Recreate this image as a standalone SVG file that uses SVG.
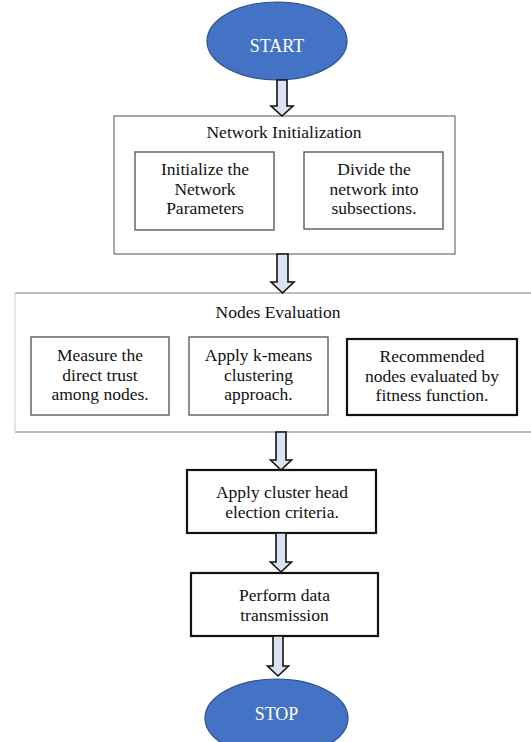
<svg xmlns="http://www.w3.org/2000/svg" width="531" height="742" viewBox="0 0 531 742">
<style>
  text { font-family: 'Liberation Serif', 'Times New Roman', 'DejaVu Serif', serif; }
  .t { font-size: 17.5px; fill: #111; text-anchor: middle; }
  .w { font-size: 18px; fill: #ffffff; text-anchor: middle; }
  .term { fill: #4472C4; stroke: #2F528F; stroke-width: 1.2; }
  .outer { fill: #ffffff; stroke: #6e6e6e; stroke-width: 1.2; }
  .inner { fill: #ffffff; stroke: #505050; stroke-width: 1.3; }
  .bold { fill: #ffffff; stroke: #111; stroke-width: 2.2; }
  .arrow { fill: #DAE3F3; stroke: #111; stroke-width: 1.6; stroke-linejoin: miter; }
</style>
<rect width="531" height="742" fill="#ffffff"/>

<g id="start">
  <ellipse class="term" cx="277" cy="41" rx="70" ry="39"/>
  <text class="w" x="277" y="52" font-family="Liberation Serif, serif">START</text>
</g>

<g id="network-init">
  <rect class="outer" x="114" y="116" width="341" height="138"/>
  <text class="t" x="284" y="138" font-family="Liberation Serif, serif">Network Initialization</text>
  <g id="init-params">
    <rect class="inner" x="135" y="152" width="139" height="78"/>
    <text class="t" x="205" y="175" font-family="Liberation Serif, serif">Initialize the</text>
    <text class="t" x="205" y="195" font-family="Liberation Serif, serif">Network</text>
    <text class="t" x="205" y="214" font-family="Liberation Serif, serif">Parameters</text>
  </g>
  <g id="divide-network">
    <rect class="inner" x="304" y="152" width="139" height="77"/>
    <text class="t" x="374" y="175" font-family="Liberation Serif, serif">Divide the</text>
    <text class="t" x="374" y="195" font-family="Liberation Serif, serif">network into</text>
    <text class="t" x="374" y="214" font-family="Liberation Serif, serif">subsections.</text>
  </g>
</g>

<g id="nodes-eval">
  <line x1="15" y1="293" x2="531" y2="293" stroke="#7a7a7a" stroke-width="1.2"/>
  <line x1="15" y1="432" x2="531" y2="432" stroke="#7a7a7a" stroke-width="1.2"/>
  <line x1="15" y1="293" x2="15" y2="432" stroke="#d8d8d8" stroke-width="1.2"/>
  <text class="t" x="278" y="318" font-family="Liberation Serif, serif">Nodes Evaluation</text>
  <g id="measure-trust">
    <rect class="inner" x="31" y="337" width="138" height="78"/>
    <text class="t" x="100" y="361" font-family="Liberation Serif, serif">Measure the</text>
    <text class="t" x="100" y="381" font-family="Liberation Serif, serif">direct trust</text>
    <text class="t" x="100" y="400" font-family="Liberation Serif, serif">among nodes.</text>
  </g>
  <g id="kmeans">
    <rect class="inner" x="189" y="337" width="139" height="78"/>
    <text class="t" x="258.5" y="361" font-family="Liberation Serif, serif">Apply k-means</text>
    <text class="t" x="258.5" y="381" font-family="Liberation Serif, serif">clustering</text>
    <text class="t" x="258.5" y="400" font-family="Liberation Serif, serif">approach.</text>
  </g>
  <g id="recommended">
    <rect class="bold" x="347" y="339" width="170" height="76"/>
    <text class="t" x="432" y="362" font-family="Liberation Serif, serif">Recommended</text>
    <text class="t" x="432" y="382" font-family="Liberation Serif, serif">nodes evaluated by</text>
    <text class="t" x="432" y="401" font-family="Liberation Serif, serif">fitness function.</text>
  </g>
</g>

<g id="cluster-head">
  <rect class="bold" x="187" y="470" width="189" height="63"/>
  <text class="t" x="282" y="498" font-family="Liberation Serif, serif">Apply cluster head</text>
  <text class="t" x="282" y="518" font-family="Liberation Serif, serif">election criteria.</text>
</g>

<g id="data-transmission">
  <rect class="bold" x="191" y="573" width="187" height="63"/>
  <text class="t" x="284.5" y="601" font-family="Liberation Serif, serif">Perform data</text>
  <text class="t" x="284.5" y="621" font-family="Liberation Serif, serif">transmission</text>
</g>

<g id="stop">
  <ellipse class="term" cx="276.5" cy="718" rx="71.5" ry="39"/>
  <text class="w" x="276.5" y="720" font-family="Liberation Serif, serif">STOP</text>
</g>

<g id="connectors">
  <polygon class="arrow" points="277,80 287,80 287,106 293,106 282,116 271,106 277,106"/>
  <polygon class="arrow" points="277,254 288,254 288,282 294,282 282.5,293 271,282 277,282"/>
  <polygon class="arrow" points="276,432 286,432 286,460 291.5,460 281,470 270.5,460 276,460"/>
  <polygon class="arrow" points="276,533 286,533 286,562 291.5,562 281,572 270.5,562 276,562"/>
  <polygon class="arrow" points="273,636 283,636 283,666 288.5,666 278,676 267.5,666 273,666"/>
</g>
</svg>
